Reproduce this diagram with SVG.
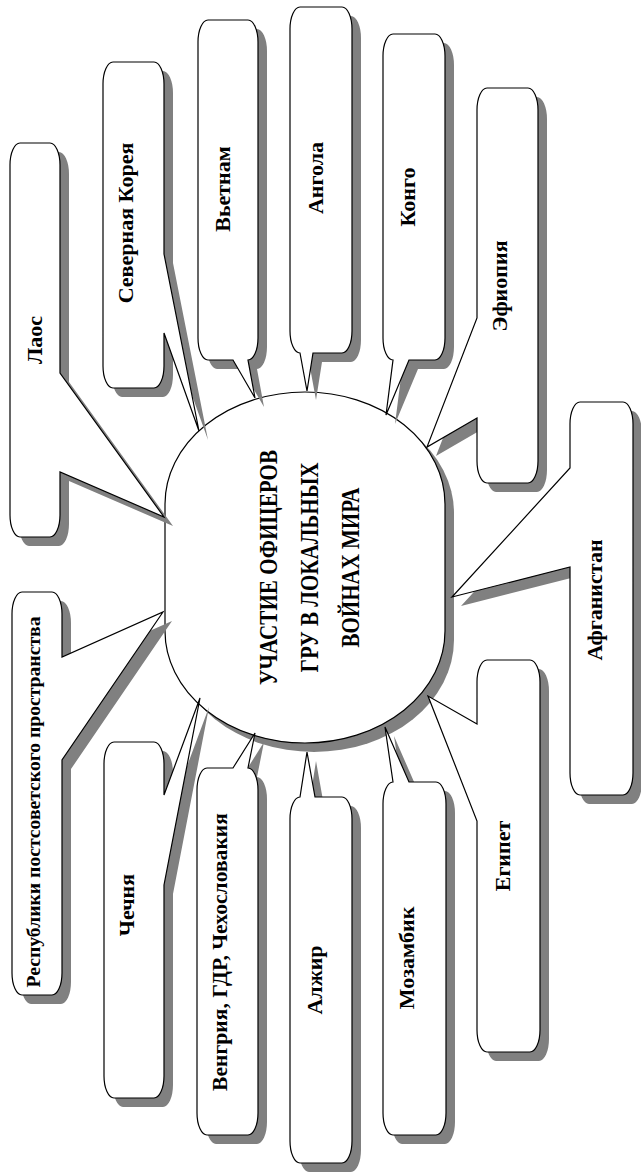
<svg xmlns="http://www.w3.org/2000/svg" xmlns:xlink="http://www.w3.org/1999/xlink" width="641" height="1176" viewBox="0 0 641 1176">
<style>
.bg{fill:#ffffff}
.sh{fill:#808080;stroke:none}
.sp{fill:#ffffff;stroke:#000000;stroke-width:1.2;stroke-linejoin:miter}
.t{font-family:"Liberation Serif","Times New Roman",serif;font-weight:bold;font-size:22px;fill:#000000;text-anchor:middle}
.tc{font-family:"Liberation Serif","Times New Roman",serif;font-weight:bold;font-size:25px;fill:#000000;text-anchor:middle}
</style>
<defs>
<rect id="p-center" x="165" y="392" width="280" height="351" rx="140" ry="112"/>
<path id="p-laos" d="M20,143 H50 A10,22 0 0 1 60,165 V373 L164,517 L60,472 V515 A10,22 0 0 1 50,537 H20 A10,22 0 0 1 10,515 V165 A10,22 0 0 1 20,143 Z"/>
<path id="p-korea" d="M113,62 H154 A10,22 0 0 1 164,84 V254 L199,431 L164,333 V366 A10,22 0 0 1 154,388 H113 A10,22 0 0 1 103,366 V84 A10,22 0 0 1 113,62 Z"/>
<path id="p-vietnam" d="M208,20 H248 A10,22 0 0 1 258,42 V338 A10,22 0 0 1 248,360 L255,398 L233,360 H208 A10,22 0 0 1 198,338 V42 A10,22 0 0 1 208,20 Z"/>
<path id="p-angola" d="M300,7 H342 A10,22 0 0 1 352,29 V331 A10,22 0 0 1 342,353 H313 L307,391 L300,353 A10,22 0 0 1 290,331 V29 A10,22 0 0 1 300,7 Z"/>
<path id="p-congo" d="M393,34 H435 A10,22 0 0 1 445,56 V338 A10,22 0 0 1 435,360 H409 L386,415 L393,360 A10,22 0 0 1 383,338 V56 A10,22 0 0 1 393,34 Z"/>
<path id="p-ethiopia" d="M487,88 H528 A10,22 0 0 1 538,110 V461 A10,22 0 0 1 528,483 H487 A10,22 0 0 1 477,461 V418 L427,447 L477,318 V110 A10,22 0 0 1 487,88 Z"/>
<path id="p-afghan" d="M580,402 H623 A10,22 0 0 1 633,424 V773 A10,22 0 0 1 623,795 H580 A10,22 0 0 1 570,773 V567 L452,597 L570,468 V424 A10,22 0 0 1 580,402 Z"/>
<path id="p-egypt" d="M487,660 H530 A10,22 0 0 1 540,682 V1030 A10,22 0 0 1 530,1052 H487 A10,22 0 0 1 477,1030 V821 L428,696 L477,724 V682 A10,22 0 0 1 487,660 Z"/>
<path id="p-mozamb" d="M393,782 L385,727 L409,782 H436 A10,22 0 0 1 446,804 V1113 A10,22 0 0 1 436,1135 H393 A10,22 0 0 1 383,1113 V804 A10,22 0 0 1 393,782 Z"/>
<path id="p-algeria" d="M300,797 L307,752 L315,797 H342 A10,22 0 0 1 352,819 V1141 A10,22 0 0 1 342,1163 H300 A10,22 0 0 1 290,1141 V819 A10,22 0 0 1 300,797 Z"/>
<path id="p-hungary" d="M207,768 H233 L255,733 L248,768 A10,22 0 0 1 258,790 V1113 A10,22 0 0 1 248,1135 H207 A10,22 0 0 1 197,1113 V790 A10,22 0 0 1 207,768 Z"/>
<path id="p-chechnya" d="M114,742 H154 A10,22 0 0 1 164,764 V795 L200,698 L164,885 V1076 A10,22 0 0 1 154,1098 H114 A10,22 0 0 1 104,1076 V764 A10,22 0 0 1 114,742 Z"/>
<path id="p-republics" d="M22,592 H52 A10,22 0 0 1 62,614 V657 L163,612 L62,760 V973 A10,22 0 0 1 52,995 H22 A10,22 0 0 1 12,973 V614 A10,22 0 0 1 22,592 Z"/>
</defs>
<rect class="bg" x="0" y="0" width="641" height="1176"/>
<g id="center">
<use xlink:href="#p-center" class="sh" transform="translate(9,9)"/>
<use xlink:href="#p-center" class="sp"/>
<text class="tc" transform="translate(277,567.5) rotate(-90)" textLength="235" lengthAdjust="spacingAndGlyphs">УЧАСТИЕ ОФИЦЕРОВ</text>
<text class="tc" transform="translate(318,567.5) rotate(-90)" textLength="210" lengthAdjust="spacingAndGlyphs">ГРУ В ЛОКАЛЬНЫХ</text>
<text class="tc" transform="translate(359,567.5) rotate(-90)" textLength="160" lengthAdjust="spacingAndGlyphs">ВОЙНАХ МИРА</text>
</g>
<g id="connectors"></g>
<g id="laos">
<use xlink:href="#p-laos" class="sh" transform="translate(9,9)"/>
<use xlink:href="#p-laos" class="sp"/>
<text class="t" transform="translate(42,340) rotate(-90)">Лаос</text>
</g>
<g id="korea">
<use xlink:href="#p-korea" class="sh" transform="translate(9,9)"/>
<use xlink:href="#p-korea" class="sp"/>
<text class="t" transform="translate(133,223) rotate(-90)">Северная Корея</text>
</g>
<g id="vietnam">
<use xlink:href="#p-vietnam" class="sh" transform="translate(9,9)"/>
<use xlink:href="#p-vietnam" class="sp"/>
<text class="t" transform="translate(230,189) rotate(-90)">Вьетнам</text>
</g>
<g id="angola">
<use xlink:href="#p-angola" class="sh" transform="translate(9,9)"/>
<use xlink:href="#p-angola" class="sp"/>
<text class="t" transform="translate(323,178) rotate(-90)">Ангола</text>
</g>
<g id="congo">
<use xlink:href="#p-congo" class="sh" transform="translate(9,9)"/>
<use xlink:href="#p-congo" class="sp"/>
<text class="t" transform="translate(415,197) rotate(-90)">Конго</text>
</g>
<g id="ethiopia">
<use xlink:href="#p-ethiopia" class="sh" transform="translate(9,9)"/>
<use xlink:href="#p-ethiopia" class="sp"/>
<text class="t" transform="translate(507,286) rotate(-90)">Эфиопия</text>
</g>
<g id="afghanistan">
<use xlink:href="#p-afghan" class="sh" transform="translate(9,9)"/>
<use xlink:href="#p-afghan" class="sp"/>
<text class="t" transform="translate(602,600) rotate(-90)">Афганистан</text>
</g>
<g id="egypt">
<use xlink:href="#p-egypt" class="sh" transform="translate(9,9)"/>
<use xlink:href="#p-egypt" class="sp"/>
<text class="t" transform="translate(510,856) rotate(-90)">Египет</text>
</g>
<g id="mozambique">
<use xlink:href="#p-mozamb" class="sh" transform="translate(9,9)"/>
<use xlink:href="#p-mozamb" class="sp"/>
<text class="t" transform="translate(414,958) rotate(-90)">Мозамбик</text>
</g>
<g id="algeria">
<use xlink:href="#p-algeria" class="sh" transform="translate(9,9)"/>
<use xlink:href="#p-algeria" class="sp"/>
<text class="t" transform="translate(322,980) rotate(-90)">Алжир</text>
</g>
<g id="hungary">
<use xlink:href="#p-hungary" class="sh" transform="translate(9,9)"/>
<use xlink:href="#p-hungary" class="sp"/>
<text class="t" transform="translate(227,952) rotate(-90)" textLength="278" lengthAdjust="spacingAndGlyphs">Венгрия, ГДР, Чехословакия</text>
</g>
<g id="chechnya">
<use xlink:href="#p-chechnya" class="sh" transform="translate(9,9)"/>
<use xlink:href="#p-chechnya" class="sp"/>
<text class="t" transform="translate(134,905) rotate(-90)">Чечня</text>
</g>
<g id="republics">
<use xlink:href="#p-republics" class="sh" transform="translate(9,9)"/>
<use xlink:href="#p-republics" class="sp"/>
<text class="t" style="font-size:18px" transform="translate(40,802) rotate(-90)" textLength="371" lengthAdjust="spacingAndGlyphs">Республики постсоветского пространства</text>
</g>
</svg>
